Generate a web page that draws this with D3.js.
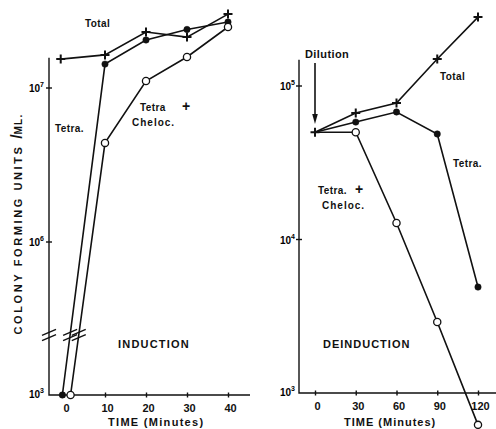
<!DOCTYPE html>
<html lang="en">
<head>
<meta charset="UTF-8" />
<title>Induction / Deinduction</title>
<script src="https://d3js.org/d3.v7.min.js"></script>
<style>
    body { margin: 0; background: #fff; }
    svg { display: block; font-family: "Liberation Sans", Arial, sans-serif; font-weight: bold; }
    .lbl { font-size: 10px; }
    .tick text { font-size: 11px; font-weight: bold; font-family: "Liberation Sans", Arial, sans-serif; }
</style>
</head>
<body>
<svg id="chart"></svg>
<script>
    // induction panel (left)
    const indTicks = [0, 10, 20, 30, 40];
    const indTimeTotal = [-0.8, 10, 20, 30, 40];
    const indTotal = [1.54e7, 1.64e7, 2.31e7, 2.14e7, 3.02e7];
    const indTimeTetra = [-0.4, 10, 20, 30, 40];
    const indTetra = [1e3, 1.43e7, 2.05e7, 2.4e7, 2.68e7];
    const indTimeChel = [1.6, 10, 20, 30, 40];
    const indChel = [1e3, 4.4e6, 1.11e7, 1.59e7, 2.49e7];

    // deinduction panel (right)
    const deTicks = [0, 30, 60, 90, 120];
    const deTime = [0, 30, 60, 90, 120];
    const deTotal = [5.0e4, 6.67e4, 7.74e4, 1.5e5, 2.81e5];
    const deTetra = [5.0e4, 5.82e4, 6.77e4, 4.87e4, 4.9e3];
    const deChel = [5.0e4, 5.0e4, 1.28e4, 2.9e3, 6.2e2];

    const width = 496, height = 429;
    const svg = d3.select("#chart").attr("width", width).attr("height", height);

    // ---- scales
    const xL = d3.scaleLinear().domain([0, 40]).range([64, 228]);
    const yUp = d3.scaleLog().domain([1e6, 1e7]).range([242, 88]);
    const yLow = d3.scaleLog().domain([1e3, 1e4]).range([395, 241]);
    const yL = v => v >= 1e5 ? yUp(v) : yLow(v);   // broken axis

    const xR = d3.scaleLinear().domain([0, 120]).range([315, 478]);
    const yR = d3.scaleLog().domain([1e3, 1e5]).range([393, 86]);

    const ink = "#111";

    function plus(g, pts) {
        g.selectAll(null).data(pts).join("path")
            .attr("d", d => `M${d[0] - 4.5},${d[1]}H${d[0] + 4.5}M${d[0]},${d[1] - 4.5}V${d[1] + 4.5}`)
            .attr("stroke", ink).attr("stroke-width", 2).attr("fill", "none");
    }
    function dots(g, pts, open) {
        g.selectAll(null).data(pts).join("circle")
            .attr("cx", d => d[0]).attr("cy", d => d[1])
            .attr("r", open ? 3.6 : 3.2)
            .attr("fill", open ? "#fff" : ink)
            .attr("stroke", ink).attr("stroke-width", open ? 1.3 : 0.5);
    }
    const line = d3.line();
    function path(g, pts) {
        g.append("path").attr("d", line(pts))
            .attr("fill", "none").attr("stroke", ink).attr("stroke-width", 1.6);
    }
    function supLabel(g, x, y, exp) {
        const t = g.append("text").attr("class", "lbl").attr("x", x).attr("y", y + 4)
            .attr("text-anchor", "end").attr("font-size", 10);
        t.append("tspan").text("10");
        t.append("tspan").attr("dy", -5).attr("font-size", 7).text(exp);
    }
    function label(g, x, y, txt, opts = {}) {
        return g.append("text").attr("x", x).attr("y", y).attr("dy", "0.35em")
            .attr("font-size", opts.size || 10)
            .attr("letter-spacing", opts.ls || 0.4)
            .attr("text-anchor", opts.anchor || "start")
            .attr("fill", ink)
            .text(txt);
    }
    function breakMark(g, x, y) {
        [-2.6, 2.6].forEach(o => {
            g.append("line")
                .attr("x1", x - 7).attr("y1", y + o + 3)
                .attr("x2", x + 7).attr("y2", y + o - 3)
                .attr("stroke", ink).attr("stroke-width", 1.4);
        });
    }

    // ================= LEFT PANEL =================
    const gL = svg.append("g");
    const axL = 49, yTopL = yUp(1.57e7), yBase = yLow(1e3);

    gL.append("path")
        .attr("d", `M${axL},${yTopL}V${yBase}H250`)
        .attr("fill", "none").attr("stroke", ink).attr("stroke-width", 1.4);

    gL.append("g").attr("transform", `translate(0,${yBase})`)
        .call(d3.axisBottom(xL).tickValues(indTicks).tickSize(2.5).tickPadding(7))
        .call(g => g.select(".domain").remove())
        .call(g => g.selectAll(".tick line").attr("y1", -2.5).attr("stroke", ink).attr("stroke-width", 1.4))
        .call(g => g.selectAll(".tick text").attr("fill", ink).attr("dx", 2));

    [[1e7, yUp], [1e6, yUp]].forEach(([v, s]) => {
        gL.append("line").attr("x1", axL - 3).attr("x2", axL + 3)
            .attr("y1", s(v)).attr("y2", s(v)).attr("stroke", ink).attr("stroke-width", 1.4);
    });
    supLabel(gL, 44, yUp(1e7), "7");
    supLabel(gL, 44, yUp(1e6), "6");
    supLabel(gL, 44, yLow(1e3) - 1, "3");

    const ptsTotL = indTimeTotal.map((t, i) => [xL(t), yL(indTotal[i])]);
    const ptsTetL = indTimeTetra.map((t, i) => [xL(t), yL(indTetra[i])]);
    const ptsChelL = indTimeChel.map((t, i) => [xL(t), yL(indChel[i])]);

    path(gL, ptsTotL);
    path(gL, ptsTetL);
    path(gL, ptsChelL);

    // broken-axis marks
    const yBreak = 335;
    breakMark(gL, axL, yBreak);
    [ptsTetL, ptsChelL].forEach(p => {
        const [a, b] = p;
        const x = a[0] + (b[0] - a[0]) * (yBreak - a[1]) / (b[1] - a[1]);
        breakMark(gL, x, yBreak);
    });

    plus(gL, ptsTotL);
    dots(gL, ptsTetL, false);
    dots(gL, ptsChelL, true);

    label(gL, 85, 23, "Total");
    label(gL, 55, 128, "Tetra.");
    label(gL, 140, 107, "Tetra");
    label(gL, 182, 106, "+", { size: 14 });
    label(gL, 132, 122, "Cheloc.", { ls: 1 });
    label(gL, 118, 344, "INDUCTION", { size: 11, ls: 1.2 });
    label(gL, 108, 422, "TIME  (Minutes)", { size: 11, ls: 1.3 });

    // y title
    const yt = gL.append("text")
        .attr("transform", `translate(22,224) rotate(-90)`)
        .attr("text-anchor", "middle").attr("font-size", 11).attr("letter-spacing", 2.6)
        .attr("fill", ink);
    yt.append("tspan").text("COLONY  FORMING  UNITS ");
    yt.append("tspan").attr("font-size", 16).attr("letter-spacing", 0).text("/");
    yt.append("tspan").attr("font-size", 10).attr("letter-spacing", 1.2).text("ML.");

    // ================= RIGHT PANEL =================
    const gR = svg.append("g");
    const axR = 299, yTopR = yR(1.48e5), yBaseR = yR(1e3);

    gR.append("path")
        .attr("d", `M${axR},${yTopR}V${yBaseR}H496`)
        .attr("fill", "none").attr("stroke", ink).attr("stroke-width", 1.4);

    gR.append("g").attr("transform", `translate(0,${yBaseR})`)
        .call(d3.axisBottom(xR).tickValues(deTicks).tickSize(2.5).tickPadding(7))
        .call(g => g.select(".domain").remove())
        .call(g => g.selectAll(".tick line").attr("y1", -2.5).attr("stroke", ink).attr("stroke-width", 1.4))
        .call(g => g.selectAll(".tick text").attr("fill", ink).attr("dx", 2));

    [1e5, 1e4].forEach(v => {
        gR.append("line").attr("x1", axR - 3).attr("x2", axR + 3)
            .attr("y1", yR(v)).attr("y2", yR(v)).attr("stroke", ink).attr("stroke-width", 1.4);
    });
    supLabel(gR, 295, yR(1e5), "5");
    supLabel(gR, 295, yR(1e4), "4");
    supLabel(gR, 295, yR(1e3) - 1, "3");

    const ptsTotR = deTime.map((t, i) => [xR(t), yR(deTotal[i])]);
    const ptsTetR = deTime.map((t, i) => [xR(t), yR(deTetra[i])]);
    const ptsChelR = deTime.map((t, i) => [xR(t), yR(deChel[i])]);

    path(gR, ptsTotR);
    path(gR, ptsTetR);
    path(gR, ptsChelR);

    plus(gR, ptsTotR);
    dots(gR, ptsTetR.slice(1), false);
    dots(gR, ptsChelR.slice(1), true);

    // dilution arrow
    const ax0 = xR(0);
    gR.append("line").attr("x1", ax0).attr("x2", ax0).attr("y1", 63).attr("y2", 116)
        .attr("stroke", ink).attr("stroke-width", 1.6);
    gR.append("path").attr("d", `M${ax0 - 2.8},114L${ax0 + 2.8},114L${ax0},124Z`).attr("fill", ink);

    label(gR, 305, 54, "Dilution", { size: 11 });
    label(gR, 440, 76, "Total");
    label(gR, 453, 163, "Tetra.");
    label(gR, 318, 190, "Tetra.");
    label(gR, 355, 189, "+", { size: 14 });
    label(gR, 322, 205, "Cheloc.", { ls: 1 });
    label(gR, 323, 344, "DEINDUCTION", { size: 11, ls: 1 });
    label(gR, 344, 422, "TIME  (Minutes)", { size: 11, ls: 1 });
</script>
</body>
</html>
